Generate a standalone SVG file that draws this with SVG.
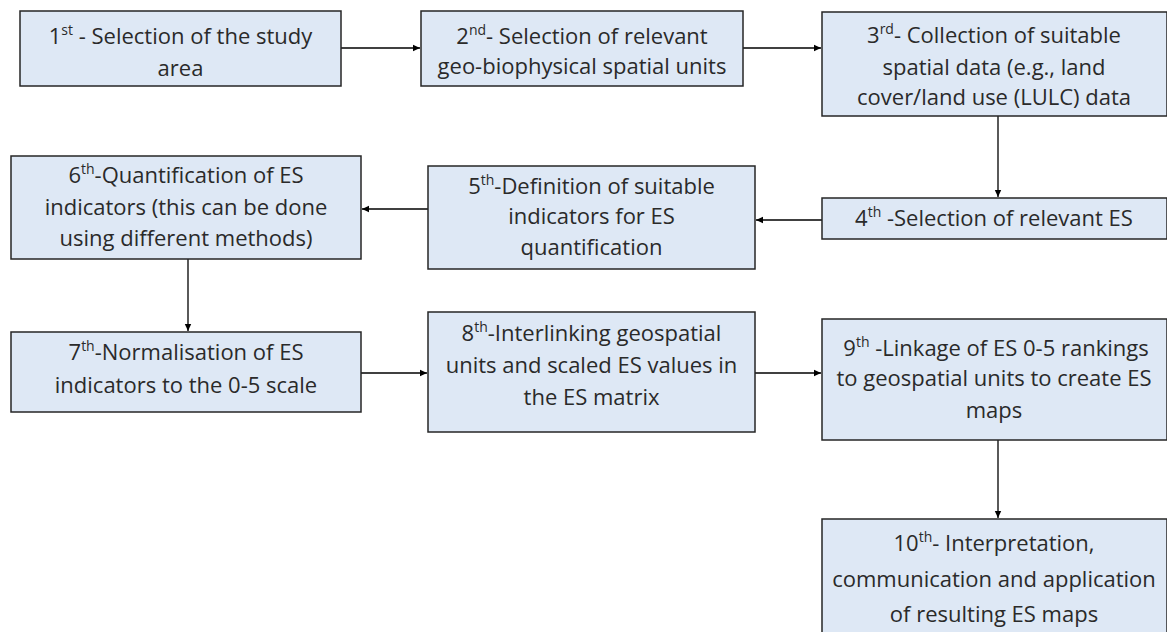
<svg xmlns="http://www.w3.org/2000/svg" width="1167" height="632" viewBox="0 0 1167 632">
  <style>
    .box { fill: #dee8f5; stroke: #262626; stroke-width: 1.5; }
    .lbl { font-family: "Open Sans", "Noto Sans", sans-serif; font-size: 22px; fill: #2a2a2a; text-anchor: middle; }
    .sup { font-size: 14px; }
    .edge { stroke: #000; stroke-width: 1.3; fill: none; marker-end: url(#arrow); }
  </style>
  <defs>
    <marker id="arrow" markerWidth="8" markerHeight="8" refX="7" refY="4" orient="auto" markerUnits="userSpaceOnUse">
      <path d="M0,0.8 L7,4 L0,7.2 Z" fill="#000"/>
    </marker>
  </defs>
  <rect width="1167" height="632" fill="#fff"/>

  <g id="connectors">
    <line class="edge" x1="341" y1="48" x2="420" y2="48"/>
    <line class="edge" x1="743" y1="48" x2="821" y2="48"/>
    <line class="edge" x1="998" y1="116" x2="998" y2="197"/>
    <line class="edge" x1="822" y1="220" x2="756" y2="220"/>
    <line class="edge" x1="428" y1="209" x2="362" y2="209"/>
    <line class="edge" x1="188" y1="259" x2="188" y2="331"/>
    <line class="edge" x1="361" y1="373" x2="427" y2="373"/>
    <line class="edge" x1="755" y1="373" x2="821" y2="373"/>
    <line class="edge" x1="998" y1="440" x2="998" y2="518"/>
  </g>

  <g id="step1">
    <rect class="box" x="20" y="11" width="321" height="75"/>
    <text class="lbl" x="180.5" y="43.5">1<tspan class="sup" dy="-8.5">st</tspan><tspan dy="8.5"> - Selection of the study</tspan></text>
    <text class="lbl" x="180.5" y="75.5">area</text>
  </g>

  <g id="step2">
    <rect class="box" x="421" y="11" width="322" height="75"/>
    <text class="lbl" x="582" y="43.5">2<tspan class="sup" dy="-8.5">nd</tspan><tspan dy="8.5">- Selection of relevant</tspan></text>
    <text class="lbl" x="582" y="73.5">geo-biophysical spatial units</text>
  </g>

  <g id="step3">
    <rect class="box" x="822" y="12" width="345" height="104"/>
    <text class="lbl" x="994" y="42.5">3<tspan class="sup" dy="-8.5">rd</tspan><tspan dy="8.5">- Collection of suitable</tspan></text>
    <text class="lbl" x="994" y="74.5">spatial data (e.g., land</text>
    <text class="lbl" x="994" y="104.5">cover/land use (LULC) data</text>
  </g>

  <g id="step4">
    <rect class="box" x="822" y="198" width="345" height="41"/>
    <text class="lbl" x="994" y="225.5">4<tspan class="sup" dy="-8.5">th</tspan><tspan dy="8.5"> -Selection of relevant ES</tspan></text>
  </g>

  <g id="step5">
    <rect class="box" x="428" y="166" width="327" height="103"/>
    <text class="lbl" x="591.5" y="193.5">5<tspan class="sup" dy="-8.5">th</tspan><tspan dy="8.5">-Definition of suitable</tspan></text>
    <text class="lbl" x="591.5" y="223.5">indicators for ES</text>
    <text class="lbl" x="591.5" y="254.5">quantification</text>
  </g>

  <g id="step6">
    <rect class="box" x="11" y="156" width="350" height="103"/>
    <text class="lbl" x="186" y="182.5">6<tspan class="sup" dy="-8.5">th</tspan><tspan dy="8.5">-Quantification of ES</tspan></text>
    <text class="lbl" x="186" y="214.5">indicators (this can be done</text>
    <text class="lbl" x="186" y="245.5">using different methods)</text>
  </g>

  <g id="step7">
    <rect class="box" x="11" y="332" width="350" height="80"/>
    <text class="lbl" x="186" y="359.5">7<tspan class="sup" dy="-8.5">th</tspan><tspan dy="8.5">-Normalisation of ES</tspan></text>
    <text class="lbl" x="186" y="392.5">indicators to the 0-5 scale</text>
  </g>

  <g id="step8">
    <rect class="box" x="428" y="312" width="327" height="120"/>
    <text class="lbl" x="591.5" y="340.5">8<tspan class="sup" dy="-8.5">th</tspan><tspan dy="8.5">-Interlinking geospatial</tspan></text>
    <text class="lbl" x="591.5" y="372.5">units and scaled ES values in</text>
    <text class="lbl" x="591.5" y="404.5">the ES matrix</text>
  </g>

  <g id="step9">
    <rect class="box" x="822" y="319" width="345" height="121"/>
    <text class="lbl" x="996" y="355.5">9<tspan class="sup" dy="-8.5">th</tspan><tspan dy="8.5"> -Linkage of ES 0-5 rankings</tspan></text>
    <text class="lbl" x="994" y="385.5">to geospatial units to create ES</text>
    <text class="lbl" x="994" y="417.5">maps</text>
  </g>

  <g id="step10">
    <rect class="box" x="822" y="519" width="345" height="130"/>
    <text class="lbl" x="994" y="550.5">10<tspan class="sup" dy="-8.5">th</tspan><tspan dy="8.5">- Interpretation,</tspan></text>
    <text class="lbl" x="994" y="586.5">communication and application</text>
    <text class="lbl" x="994" y="621.5">of resulting ES maps</text>
  </g>
</svg>
